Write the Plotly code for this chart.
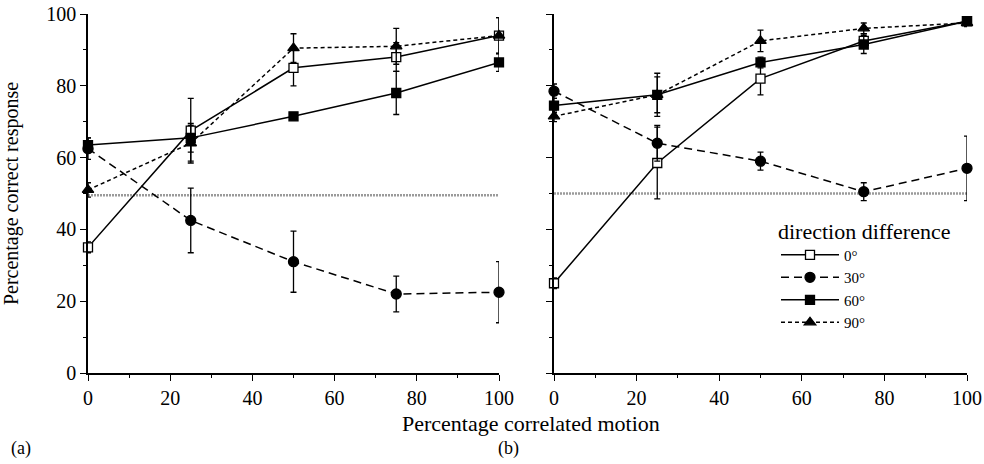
import plotly.graph_objects as go

x_vals = [0, 25, 50, 75, 100]
labels = ["0°", "30°", "60°", "90°"]

# Panel (a)
a_0 = [35, 67.5, 85, 88, 94]
a_30 = [62.5, 42.5, 31, 22, 22.5]
a_60 = [63.5, 65.5, 71.5, 78, 86.5]
a_90 = [51, 64, 90.5, 91, 94]
a_0_err = [1.5, 9, 5, 4, 5]
a_30_err = [3, 9, 8.5, 5, 8.5]
a_60_err = [2, 4, 1, 6, 2.5]
a_90_err = [2, 5, 4, 5, 5]

# Panel (b)
b_0 = [25, 58.5, 82, 92.5, 98]
b_30 = [78.5, 64, 59, 50.5, 57]
b_60 = [74.5, 77.5, 86.5, 91.5, 98]
b_90 = [71.5, 77.5, 92.5, 96, 97.5]
b_0_err = [1.5, 10, 4.5, 2, 1]
b_30_err = [2, 5, 2.5, 2.5, 9]
b_60_err = [2, 6, 1.5, 2.5, 1]
b_90_err = [1.5, 5, 3, 1.5, 1]

chance_a = 49.5
chance_b = 50

FONT = "Liberation Serif, Times New Roman, serif"

styles = [
    dict(dash="solid", symbol="square", fill="white", size=9),
    dict(dash="8px,5px", symbol="circle", fill="black", size=10),
    dict(dash="solid", symbol="square", fill="black", size=9),
    dict(dash="4px,3px", symbol="triangle-up", fill="black", size=10),
]

fig = go.Figure()

# chance-level reference lines (drawn first, beneath data)
for xa, ya, lvl in (("x", "y", chance_a), ("x2", "y2", chance_b)):
    fig.add_trace(go.Scatter(x=[0, 100], y=[lvl, lvl], mode="lines", xaxis=xa, yaxis=ya,
                             showlegend=False, hoverinfo="skip",
                             line=dict(color="#9a9a9a", width=2.5, dash="2px,1px")))


def add_panel(series, errs, xa, ya, show):
    for i, (yv, ev) in enumerate(zip(series, errs)):
        st = styles[i]
        fig.add_trace(go.Scatter(
            x=x_vals, y=yv, mode="lines+markers", name=labels[i],
            xaxis=xa, yaxis=ya, showlegend=show, cliponaxis=False,
            line=dict(color="black", width=1.5, dash=st["dash"]),
            marker=dict(symbol=st["symbol"], size=st["size"], color=st["fill"],
                        line=dict(color="black", width=1.3)),
            error_y=dict(type="data", array=ev, visible=True, color="black",
                         thickness=1.3, width=3),
        ))


add_panel([a_0, a_30, a_60, a_90], [a_0_err, a_30_err, a_60_err, a_90_err], "x", "y", True)
add_panel([b_0, b_30, b_60, b_90], [b_0_err, b_30_err, b_60_err, b_90_err], "x2", "y2", False)

axis_common = dict(range=[0, 100], showgrid=False, zeroline=False, showline=True,
                   linecolor="black", linewidth=1.5, ticks="outside", ticklen=6,
                   tickwidth=1.3, tickcolor="black", dtick=20, ticklabeloverflow="allow",
                   automargin=False,
                   minor=dict(ticks="outside", ticklen=3, dtick=10, tickcolor="black"),
                   tickfont=dict(family=FONT, size=20, color="black"))

PL, PT = 88, 14          # plot-area left / top
PW, PH = 879, 359        # plot-area width / height


def px(xabs):
    return (xabs - PL) / PW


def py(yabs):
    return (PT + PH - yabs) / PH


fig.update_layout(
    width=984, height=464,
    margin=dict(l=PL, r=984 - PL - PW, t=PT, b=464 - PT - PH),
    plot_bgcolor="white", paper_bgcolor="white",
    font=dict(family=FONT, color="black"),
    xaxis=dict(axis_common, domain=[0, 411 / 879], anchor="y"),
    yaxis=dict(axis_common, anchor="x",
               title=dict(text="Percentage correct response", font=dict(family=FONT, size=20), standoff=27)),
    xaxis2=dict(axis_common, domain=[466 / 879, 1], anchor="y2"),
    yaxis2=dict(axis_common, anchor="x2", showticklabels=False),
    legend=dict(x=px(776), y=py(210), xanchor="left", yanchor="top",
                title=dict(text="direction difference", font=dict(family=FONT, size=22)),
                font=dict(family=FONT, size=15), bgcolor="rgba(0,0,0,0)",
                tracegroupgap=0, itemwidth=58),
    annotations=[
        dict(text="Percentage correlated motion", x=px(531), y=py(423), xref="paper", yref="paper",
             showarrow=False, font=dict(family=FONT, size=22), xanchor="center", yanchor="middle"),
        dict(text="(a)", x=px(9), y=py(448), xref="paper", yref="paper", showarrow=False,
             font=dict(family=FONT, size=18), xanchor="left", yanchor="middle"),
        dict(text="(b)", x=px(496), y=py(448), xref="paper", yref="paper", showarrow=False,
             font=dict(family=FONT, size=18), xanchor="left", yanchor="middle"),
    ],
)

fig.write_html("out.html", config={"displayModeBar": False},
               post_script="document.body.style.margin='0px';document.body.style.overflow='hidden';")
